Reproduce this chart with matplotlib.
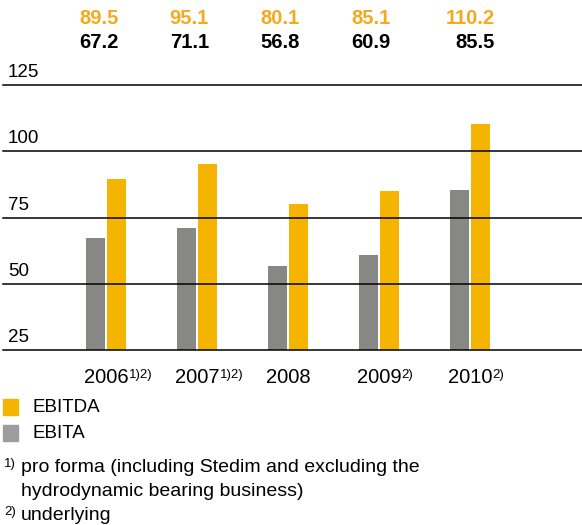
import matplotlib
matplotlib.use("Agg")
import matplotlib.pyplot as plt
from matplotlib.patches import Rectangle

# data
years = ["2006", "2007", "2008", "2009", "2010"]
notes = ["1)2)", "1)2)", "", "2)", "2)"]
ebitda = [89.5, 95.1, 80.1, 85.1, 110.2]
ebita = [67.2, 71.1, 56.8, 60.9, 85.5]
yticks = [25, 50, 75, 100, 125]

orange = "#F5B400"
orange_txt = "#F5A91C"
grey = "#878785"
plt.rcParams['font.family'] = ["Liberation Sans", "DejaVu Sans"]

fig = plt.figure(figsize=(5.82, 5.25), dpi=100)
ax = fig.add_axes([0, 175/525, 1, 265/525])

x = range(len(years))
w = 0.214
off = 0.118
ax.bar([i - off for i in x], [v - 25 for v in ebita], w, bottom=25, color=grey, zorder=1)
ax.bar([i + off for i in x], [v - 25 for v in ebitda], w, bottom=25, color=orange, zorder=1)

ax.set_xlim(-106/91, (582-106)/91)
ax.set_ylim(25, 125)
for t in yticks:
    ax.axhline(t, xmin=0.005, color="black", lw=1.1, zorder=2, clip_on=False)
    ax.text(8/582, t + 1.5, str(t), transform=ax.get_yaxis_transform(), fontsize=13.5, va="bottom", ha="left")
for s in ax.spines.values():
    s.set_visible(False)
ax.set_yticks([])
ax.set_xticks(list(x))
ax.set_xticklabels(years, fontsize=14.5)
ax.tick_params(axis="x", length=0, pad=13)

fig.canvas.draw()
for lab, n in zip(ax.get_xticklabels(), notes):
    if n:
        ax.annotate(n, xy=(1, 1), xycoords=lab, xytext=(0.3, -0.5), textcoords="offset points",
                    fontsize=9.5, ha="left", va="top")

# value labels on top (last column sits a bit further right in the original)
shift = [0.143, 0.13, 0.13, 0.13, 0.27]
for i in x:
    ax.text(i + shift[i], 1.0 + (85-18)/265, f"{ebitda[i]:.1f}", transform=ax.get_xaxis_transform(),
            fontsize=14.5, fontweight="bold", color=orange_txt, ha="right", va="center")
    ax.text(i + shift[i], 1.0 + (85-42)/265, f"{ebita[i]:.1f}", transform=ax.get_xaxis_transform(),
            fontsize=14.5, fontweight="bold", color="black", ha="right", va="center")

# legend
fig.patches.append(Rectangle((3/582, 1-415/525), 15/582, 16/525, transform=fig.transFigure, color=orange))
fig.patches.append(Rectangle((3/582, 1-441/525), 15/582, 16/525, transform=fig.transFigure, color="#9D9D9D"))
fig.text(33/582, 1-407/525, "EBITDA", fontsize=13.5, va="center")
fig.text(33/582, 1-433/525, "EBITA", fontsize=13.5, va="center")

# footnotes
fig.text(4/582, 1-464/525, "1)", fontsize=9.5, va="center")
fig.text(21/582, 1-467/525, "pro forma (including Stedim and excluding the", fontsize=14, va="center")
fig.text(21/582, 1-491/525, "hydrodynamic bearing business)", fontsize=14, va="center")
fig.text(4/582, 1-512/525, "2)", fontsize=9.5, va="center")
fig.text(21/582, 1-515/525, "underlying", fontsize=14, va="center")

fig.savefig("out.png", dpi=100)
